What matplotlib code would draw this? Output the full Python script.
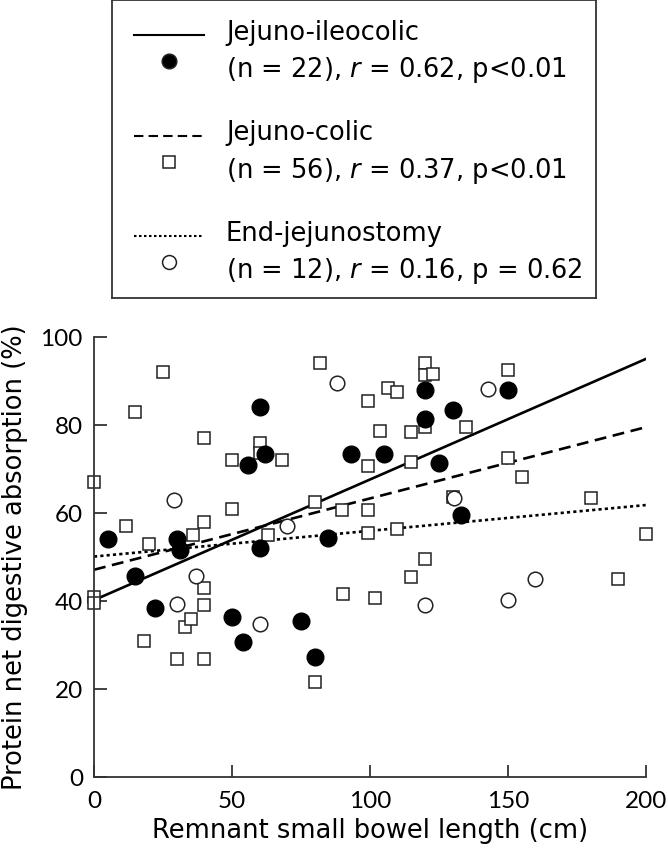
import matplotlib
matplotlib.use("Agg")
import matplotlib.pyplot as plt
from matplotlib.lines import Line2D

plt.rcParams['font.family'] = ['DejaVu Sans']
plt.rcParams['mathtext.fontset'] = 'custom'
plt.rcParams['mathtext.it'] = 'DejaVu Sans:italic'
plt.rcParams['mathtext.rm'] = 'DejaVu Sans'

# Jejuno-ileocolic (filled circles)
jic_x = [5, 15, 22, 30, 31, 50, 54, 56, 60, 60, 62, 75, 80, 85, 93, 105, 120, 120, 125, 130, 133, 150]
jic_y = [54, 45.7, 38.5, 54, 51.5, 36.4, 30.6, 71, 84, 52, 73.5, 35.4, 27.3, 54.4, 73.4, 73.4, 88, 81.4, 71.4, 83.4, 59.5, 88]

# Jejuno-colic (open squares)
jc_x = [0, 0, 0, 11.5, 15, 18, 20, 25, 30, 33, 35, 36, 40, 40, 40, 40, 40, 50, 50, 60, 60, 63,
        68, 80, 80, 82, 90, 90.4, 99.5, 99.4, 99.5, 99.4, 101.8, 103.6, 106.5, 110, 110, 115, 115,
        115, 120, 120, 123, 120, 120, 130, 135, 150, 150, 155, 180, 190, 200]
jc_y = [67, 41, 39.5, 57, 83, 31, 53, 92, 26.8, 34, 36, 55, 77, 58, 43, 39, 26.8, 72, 61, 76, 73.7, 55,
        72, 62.6, 21.7, 94, 60.6, 41.7, 85.5, 70.7, 60.6, 55.5, 40.6, 78.6, 88.3, 87.4, 56.4, 78.4, 71.6,
        45.4, 94, 91.4, 91.5, 79.5, 49.5, 63.7, 79.6, 92.4, 72.5, 68.2, 63.3, 45, 55.2]

# End-jejunostomy (open circles)
ej_x = [29, 30, 37, 60, 70, 88, 120, 130.5, 143, 150, 160]
ej_y = [63, 39.3, 45.7, 34.7, 57, 89.5, 39, 63.3, 88.2, 40.2, 45]

# Regression lines (values read at x = 0 and x = 200)
fit_x = [0, 200]
fit_jic = [40.2, 95.0]
fit_jc = [47.1, 79.5]
fit_ej = [50.1, 61.8]

x_ticks = [0, 50, 100, 150, 200]
y_ticks = [0, 20, 40, 60, 80, 100]

W, H = 668, 852
fig = plt.figure(figsize=(W / 100, H / 100), dpi=100)
ax = fig.add_axes([94 / W, 1 - 777 / H, (645.7 - 94) / W, (777 - 337) / H])

ax.plot(fit_x, fit_jic, color='black', lw=1.9, ls='-')
ax.plot(fit_x, fit_jc, color='black', lw=1.9, ls=(0, (4.5, 2.5)))
ax.plot(fit_x, fit_ej, color='black', lw=1.9, ls=(0, (1.2, 1.2)))

ax.plot(jc_x, jc_y, ls='none', marker='s', ms=8.5, mfc='white', mec='#222222', mew=1.1, clip_on=False)
ax.plot(ej_x, ej_y, ls='none', marker='o', ms=10.5, mfc='white', mec='#222222', mew=1.1, clip_on=False)
ax.plot(jic_x, jic_y, ls='none', marker='o', ms=12, mfc='black', mec='black', mew=1, clip_on=False)

ax.set_xlim(0, 200)
ax.set_ylim(0, 100)
ax.set_xticks(x_ticks)
ax.set_yticks(y_ticks)
ax.spines['top'].set_visible(False)
ax.spines['right'].set_visible(False)
for s in ['left', 'bottom']:
    ax.spines[s].set_linewidth(1.3)
    ax.spines[s].set_color('#333333')
ax.tick_params(direction='in', length=9, width=1.3, color='#333333', labelsize=17.5)
ax.tick_params(axis='x', pad=10)
ax.tick_params(axis='y', pad=8)
for lab in ax.get_xticklabels() + ax.get_yticklabels():
    lab.set_fontfamily(['Lato', 'DejaVu Sans'])
ax.set_xlabel('Remnant small bowel length (cm)', fontsize=18.5)
ax.set_ylabel('Protein net digestive absorption (%)', fontsize=18.5)
ax.xaxis.set_label_coords(0.5, (777 - 818) / 440)
ax.yaxis.set_label_coords((28 - 94) / 551.7, 0.5)

# Legend box
lax = fig.add_axes([112 / W, 1 - 298 / H, (596 - 112) / W, 298 / H])
lax.set_xlim(112, 596)
lax.set_ylim(298, 0)
lax.set_xticks([])
lax.set_yticks([])
for s in lax.spines.values():
    s.set_linewidth(1.3)
    s.set_color('#333333')

entries = [
    ('-', 'o', 'black', 'Jejuno-ileocolic', '(n = 22), $\\mathit{r}$ = 0.62, p<0.01'),
    ((0, (4.5, 2.5)), 's', 'white', 'Jejuno-colic', '(n = 56), $\\mathit{r}$ = 0.37, p<0.01'),
    ((0, (1.2, 1.2)), 'o', 'white', 'End-jejunostomy', '(n = 12), $\\mathit{r}$ = 0.16, p = 0.62'),
]
for i, (ls, mk, fc, t1, t2) in enumerate(entries):
    y0 = 35 + 100.5 * i
    lax.add_line(Line2D([134, 204], [y0, y0], color='black', lw=1.5, ls=ls))
    ms = 10.5 if fc == 'black' else (8 if mk == 's' else 10)
    lax.add_line(Line2D([169], [y0 + 26], marker=mk, ms=ms, mfc=fc, mec='#222222', mew=1.1, ls='none'))
    lax.text(226, y0 + 5, t1, fontsize=18.5, va='baseline', ha='left')
    lax.text(226, y0 + 42, t2, fontsize=18.5, va='baseline', ha='left')

fig.savefig('out.png', dpi=100)
